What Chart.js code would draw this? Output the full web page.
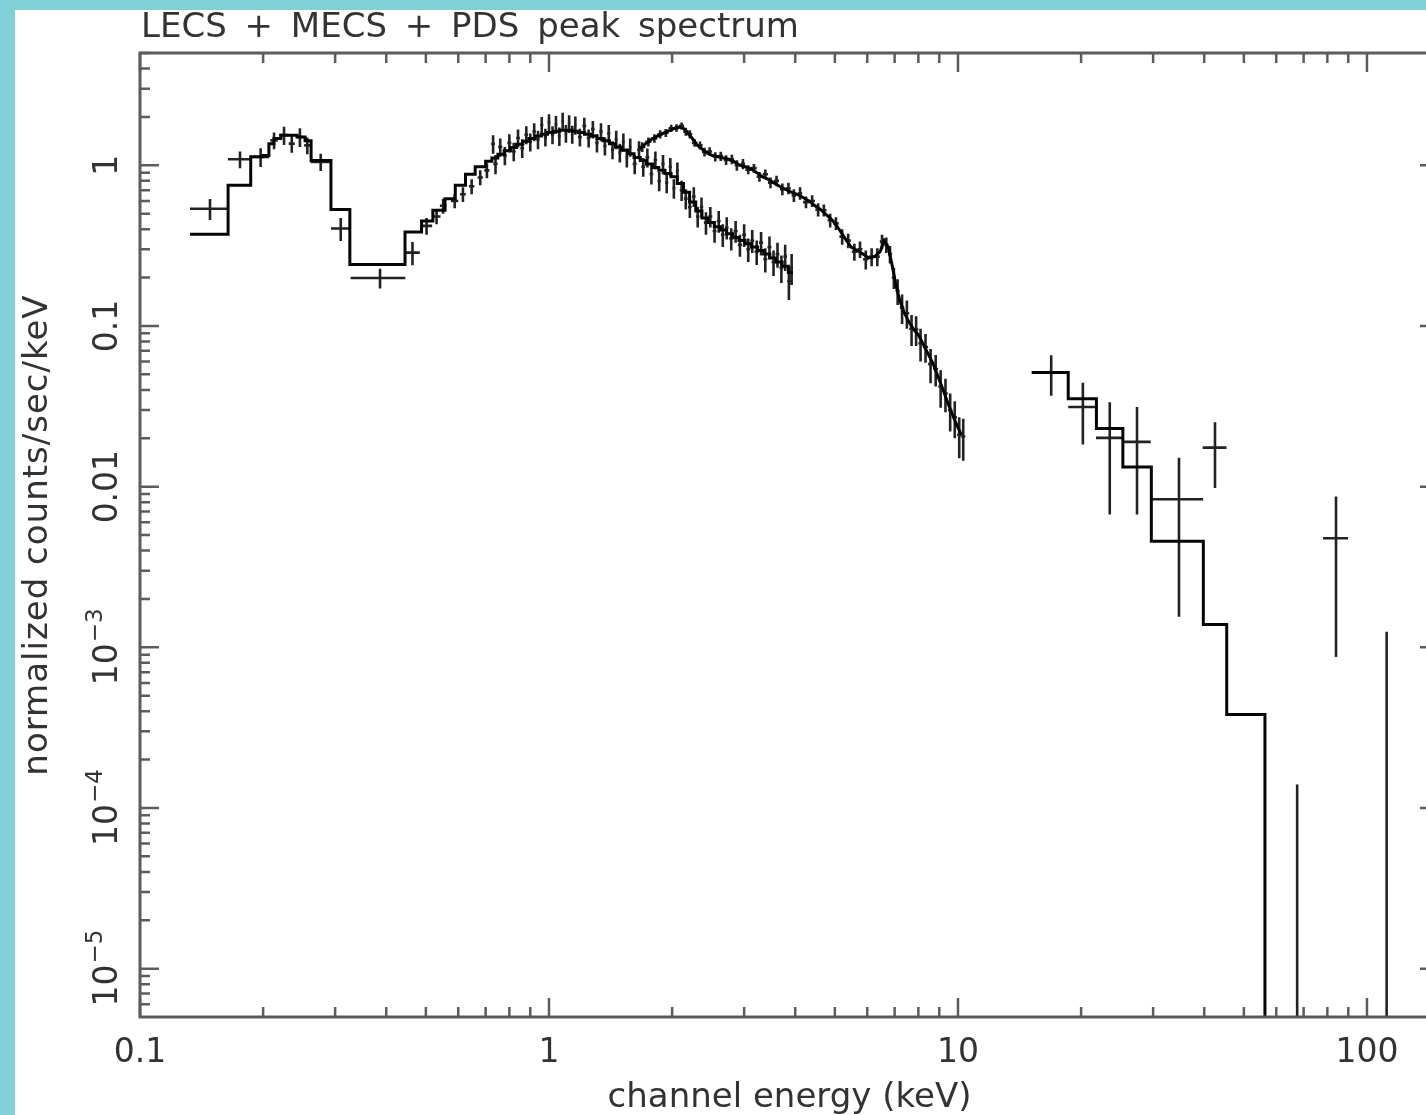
<!DOCTYPE html>
<html>
<head>
<meta charset="utf-8">
<title>LECS + MECS + PDS peak spectrum</title>
<script src="https://cdn.jsdelivr.net/npm/chart.js@4.4.1/dist/chart.umd.min.js"></script>
<style>
  html, body { margin: 0; padding: 0; overflow: hidden; background: #80d0d8; }
  #paper { position: absolute; left: 15px; top: 10px; width: 1460px; height: 1115px; background: #fff; }
  #wrap { position: absolute; left: 0; top: 0; width: 1460px; height: 1115px; }
</style>
</head>
<body>
<div id="paper"></div>
<div id="wrap"><canvas id="spec" width="1460" height="1115"></canvas></div>
<script>
// ---- data (energies in keV, rates in normalized counts/sec/keV) ----

// LECS data points: centre energy, half bin width, rate, error
const lecsE = [0.1483, 0.1756, 0.1972, 0.2127, 0.2250, 0.2350, 0.2460, 0.2565, 0.2766, 0.3096, 0.3863, 0.4637,
  0.502, 0.531, 0.551, 0.588, 0.616, 0.647, 0.679, 0.705, 0.730,
  0.74, 0.76, 0.78, 0.80, 0.82, 0.84, 0.86, 0.88, 0.90, 0.92, 0.94, 0.96, 0.98, 1.00, 1.02, 1.04, 1.06, 1.08, 1.10, 1.12, 1.14, 1.16,
  1.19, 1.22, 1.25, 1.28, 1.31, 1.34, 1.37, 1.40, 1.43, 1.46, 1.49, 1.52, 1.55, 1.58,
  1.62, 1.66, 1.70, 1.74, 1.78, 1.82, 1.86, 1.90, 1.94, 1.98, 2.02, 2.06,
  2.11, 2.16, 2.21, 2.26, 2.31, 2.36,
  2.42, 2.48, 2.54, 2.60, 2.66, 2.72,
  2.79, 2.86, 2.93, 3.00, 3.07, 3.14,
  3.22, 3.30, 3.38, 3.46, 3.54, 3.62, 3.70, 3.78, 3.86, 3.92];
const lecsDE = [0.0158, 0.0116, 0.0098, 0.0045, 0.006, 0.004, 0.0045, 0.0045, 0.0155, 0.0165, 0.059, 0.0195,
  0.016, 0.012, 0.01, 0.012, 0.01, 0.01, 0.01, 0.01, 0.008,
  0.009, 0.009, 0.009, 0.009, 0.009, 0.009, 0.009, 0.009, 0.009, 0.009, 0.009, 0.009, 0.009, 0.009, 0.009, 0.009, 0.009, 0.009, 0.009, 0.009, 0.009, 0.009,
  0.013, 0.013, 0.013, 0.013, 0.013, 0.013, 0.013, 0.013, 0.013, 0.013, 0.013, 0.013, 0.013, 0.013,
  0.018, 0.018, 0.018, 0.018, 0.018, 0.018, 0.018, 0.018, 0.018, 0.018, 0.018, 0.018,
  0.023, 0.023, 0.023, 0.023, 0.023, 0.023,
  0.028, 0.028, 0.028, 0.028, 0.028, 0.028,
  0.033, 0.033, 0.033, 0.033, 0.033, 0.033,
  0.038, 0.038, 0.038, 0.038, 0.038, 0.038, 0.038, 0.038, 0.038, 0.03];
const lecsV = [0.537, 1.09, 1.127, 1.43, 1.54, 1.365, 1.50, 1.33, 1.05, 0.404, 0.199, 0.286,
  0.42, 0.48, 0.56, 0.60, 0.66, 0.74, 0.84, 0.93, 1.36,
  1.02, 1.30, 1.15, 1.38, 1.22, 1.48, 1.28, 1.55, 1.40, 1.62, 1.45, 1.78, 1.50, 1.85, 1.55, 1.80, 1.52, 1.88, 1.58, 1.82, 1.56, 1.78,
  1.50, 1.76, 1.48, 1.68, 1.38, 1.62, 1.32, 1.58, 1.25, 1.45, 1.20, 1.40, 1.12, 1.30,
  1.02, 1.25, 0.98, 1.12, 0.88, 1.08, 0.80, 1.02, 0.78, 0.98, 0.72, 0.92,
  0.70, 0.62, 0.55, 0.64, 0.48, 0.55,
  0.44, 0.48, 0.39, 0.45, 0.37, 0.41,
  0.35, 0.39, 0.32, 0.37, 0.30, 0.34,
  0.29, 0.33, 0.26, 0.31, 0.25, 0.28, 0.23, 0.27, 0.19, 0.23];
const lecsErr = [0.08, 0.13, 0.15, 0.17, 0.20, 0.17, 0.20, 0.16, 0.13, 0.066, 0.028, 0.047,
  0.05, 0.05, 0.06, 0.06, 0.07, 0.08, 0.09, 0.10, 0.18,
  0.14, 0.17, 0.15, 0.18, 0.16, 0.19, 0.17, 0.20, 0.18, 0.21, 0.19, 0.22, 0.19, 0.23, 0.20, 0.23, 0.20, 0.24, 0.20, 0.23, 0.20, 0.23,
  0.19, 0.22, 0.19, 0.21, 0.18, 0.21, 0.17, 0.20, 0.16, 0.19, 0.16, 0.18, 0.15, 0.17,
  0.14, 0.16, 0.13, 0.15, 0.12, 0.14, 0.11, 0.14, 0.11, 0.13, 0.10, 0.12,
  0.10, 0.09, 0.08, 0.09, 0.07, 0.08,
  0.07, 0.07, 0.06, 0.07, 0.06, 0.065,
  0.055, 0.06, 0.05, 0.06, 0.05, 0.055,
  0.05, 0.055, 0.045, 0.05, 0.045, 0.05, 0.045, 0.05, 0.045, 0.05];

// LECS folded model: bin edges and bin values
const lecsModelEdges = [0.1325, 0.1642, 0.1865, 0.1998, 0.2066, 0.2125, 0.2210, 0.2421, 0.2533, 0.2620, 0.2930, 0.3259,
  0.4446, 0.488, 0.520, 0.557, 0.590, 0.625, 0.660, 0.700,
  0.725, 0.750, 0.777, 0.805, 0.833, 0.863, 0.893, 0.925, 0.958, 0.992, 1.027, 1.063, 1.101, 1.140, 1.180,
  1.222, 1.265, 1.310, 1.357, 1.405, 1.454, 1.506, 1.559, 1.614, 1.672, 1.731, 1.792, 1.855, 1.921, 1.989,
  2.059, 2.132, 2.207, 2.285, 2.366, 2.450, 2.536, 2.626, 2.719, 2.815, 2.914, 3.017, 3.124, 3.234, 3.349,
  3.467, 3.590, 3.716, 3.848, 3.95];
const lecsModelV = [0.372, 0.751, 1.13, 1.15, 1.36, 1.47, 1.54, 1.50, 1.42, 1.07, 0.53, 0.241,
  0.384, 0.45, 0.525, 0.62, 0.75, 0.88, 0.98,
  1.06, 1.11, 1.17, 1.23, 1.29, 1.35, 1.41, 1.47, 1.52, 1.56, 1.60, 1.63, 1.65, 1.65, 1.63,
  1.60, 1.56, 1.52, 1.47, 1.42, 1.36, 1.30, 1.24, 1.18, 1.12, 1.07, 1.02, 0.97, 0.93, 0.89,
  0.85, 0.77, 0.68, 0.59, 0.52, 0.47, 0.44, 0.415, 0.395, 0.375, 0.355, 0.34, 0.325, 0.31, 0.295,
  0.28, 0.265, 0.25, 0.235, 0.215];

// MECS data points
const mecsE = [1.69, 1.75, 1.81, 1.87, 1.93, 1.99, 2.05, 2.11, 2.16, 2.21,
  2.27, 2.34, 2.40, 2.47, 2.55, 2.63, 2.71, 2.80, 2.88, 2.98,
  3.07, 3.17, 3.27, 3.38, 3.48, 3.60, 3.72, 3.85, 3.97, 4.11,
  4.25, 4.40, 4.55, 4.70, 4.87, 5.03, 5.21, 5.39, 5.58, 5.76,
  5.95, 6.15, 6.35, 6.52, 6.68, 6.82, 6.97, 7.12, 7.30, 7.50,
  7.70, 7.90, 8.10, 8.33, 8.57, 8.82, 9.07, 9.32, 9.57, 9.82, 10.07, 10.3];
const mecsDE = [0.03, 0.03, 0.03, 0.03, 0.03, 0.03, 0.03, 0.03, 0.03, 0.03,
  0.035, 0.035, 0.035, 0.035, 0.035, 0.035, 0.035, 0.035, 0.035, 0.035,
  0.05, 0.05, 0.05, 0.05, 0.05, 0.05, 0.05, 0.05, 0.05, 0.05,
  0.07, 0.07, 0.07, 0.07, 0.07, 0.08, 0.08, 0.08, 0.08, 0.08,
  0.09, 0.09, 0.09, 0.08, 0.08, 0.08, 0.08, 0.08, 0.09, 0.1,
  0.1, 0.1, 0.1, 0.12, 0.12, 0.12, 0.12, 0.12, 0.12, 0.12, 0.12, 0.12];
const mecsV = [1.30, 1.40, 1.47, 1.56, 1.59, 1.70, 1.71, 1.76, 1.62, 1.56,
  1.38, 1.33, 1.21, 1.22, 1.13, 1.14, 1.08, 1.09, 1.00, 1.02,
  0.94, 0.96, 0.85, 0.88, 0.78, 0.80, 0.71, 0.72, 0.65, 0.67,
  0.59, 0.60, 0.53, 0.525, 0.455, 0.435, 0.36, 0.34, 0.29, 0.30,
  0.26, 0.27, 0.27, 0.335, 0.32, 0.28, 0.20, 0.165, 0.13, 0.12,
  0.096, 0.095, 0.078, 0.074, 0.058, 0.054, 0.042, 0.038, 0.030, 0.027, 0.021, 0.0205];
const mecsErr = [0.09, 0.09, 0.09, 0.09, 0.09, 0.09, 0.09, 0.09, 0.09, 0.09,
  0.075, 0.075, 0.075, 0.075, 0.075, 0.075, 0.075, 0.075, 0.075, 0.075,
  0.06, 0.06, 0.06, 0.06, 0.06, 0.06, 0.06, 0.06, 0.06, 0.06,
  0.05, 0.05, 0.05, 0.045, 0.045, 0.04, 0.04, 0.035, 0.035, 0.035,
  0.035, 0.035, 0.035, 0.035, 0.035, 0.035, 0.03, 0.03, 0.027, 0.024,
  0.021, 0.02, 0.018, 0.015, 0.014, 0.012, 0.011, 0.009, 0.008, 0.007, 0.006, 0.006];

// MECS folded model
const mecsModelE = [1.67, 1.72, 1.78, 1.84, 1.90, 1.96, 2.02, 2.08, 2.13, 2.18,
  2.24, 2.30, 2.37, 2.44, 2.51, 2.59, 2.67, 2.75, 2.84, 2.93,
  3.02, 3.12, 3.22, 3.32, 3.43, 3.54, 3.66, 3.78, 3.91, 4.04,
  4.18, 4.32, 4.47, 4.62, 4.78, 4.95, 5.12, 5.30, 5.48, 5.67,
  5.86, 6.05, 6.25, 6.45, 6.60, 6.75, 6.90, 7.05, 7.20, 7.40,
  7.60, 7.80, 8.00, 8.20, 8.45, 8.70, 8.95, 9.20, 9.45, 9.70, 9.95, 10.2];
const mecsModelV = [1.27, 1.36, 1.45, 1.52, 1.58, 1.64, 1.69, 1.73, 1.70, 1.60,
  1.47, 1.34, 1.26, 1.19, 1.15, 1.13, 1.11, 1.09, 1.05, 1.00,
  0.98, 0.95, 0.90, 0.85, 0.82, 0.78, 0.74, 0.71, 0.68, 0.66,
  0.63, 0.60, 0.56, 0.53, 0.49, 0.45, 0.40, 0.35, 0.31, 0.295,
  0.28, 0.265, 0.27, 0.29, 0.34, 0.31, 0.24, 0.18, 0.145, 0.12,
  0.105, 0.095, 0.088, 0.078, 0.067, 0.058, 0.048, 0.040, 0.033, 0.028, 0.024, 0.021];

// PDS data points (negative rates only show their upper error)
const pdsE = [16.9, 20.2, 23.5, 27.4, 34.7, 42.5, 67.5, 84.0, 111.7];
const pdsDE = [1.73, 1.6, 1.75, 2.2, 5.05, 2.85, 5.0, 5.9, 10.0];
const pdsV = [0.0513, 0.0313, 0.0201, 0.019, 0.00835, 0.0175, -3.0e-4, 0.00477, -1.2e-3];
const pdsErr = [0.0145, 0.013, 0.0134, 0.0123, 0.0068, 0.0077, 4.4e-4, 0.0039, 2.45e-3];

// PDS folded model (last bin is far below the plotted range)
const pdsModelEdges = [15.14, 18.6, 21.8, 25.3, 29.7, 39.8, 45.4, 56.3, 150];
const pdsModelV = [0.0513, 0.0353, 0.023, 0.01327, 0.00457, 0.001386, 3.82e-4, 1e-9];

// tick labels
const xTickVals = [0.1, 1, 10, 100];
const xTickText = ['0.1', '1', '10', '100'];
const yTickVals = [1, 0.1, 0.01, 1e-3, 1e-4, 1e-5];
const yTickText = ['1', '0.1', '0.01', '10', '10', '10'];
const yTickExp = ['', '', '', '\u22123', '\u22124', '\u22125'];
const xDecades = [0.1, 1, 10, 100];
const yDecades = [1e-6, 1e-5, 1e-4, 1e-3, 1e-2, 0.1, 1];

// ---- helpers ----
function stepLine(edges, vals) {
  const pts = [];
  vals.forEach((v, i) => {
    pts.push({x: edges[i], y: v}, {x: edges[i + 1], y: v});
  });
  return pts;
}

function crosses(e, de, v, dv) {
  const pts = [];
  for (let i = 0; i < e.length; i++) {
    pts.push({x: e[i] - de[i], y: v[i]}, {x: e[i] + de[i], y: v[i]}, {x: e[i], y: null});
    pts.push({x: e[i], y: Math.max(v[i] - dv[i], 1e-9)}, {x: e[i], y: v[i] + dv[i]}, {x: e[i], y: null});
  }
  return pts;
}

const FONT = '"DejaVu Sans", "Liberation Sans", sans-serif';
const INK = '#333';

// PGPLOT-like frame: box, inward ticks on all four sides, labels
const pgFrame = {
  id: 'pgFrame',
  afterDatasetsDraw(chart) {
    const {ctx, chartArea: a} = chart;
    const xs = chart.scales.x, ys = chart.scales.y;
    ctx.save();
    ctx.strokeStyle = '#5c5c5c';
    ctx.lineWidth = 3;
    ctx.strokeRect(a.left, a.top, a.right - a.left, a.bottom - a.top);

    ctx.lineWidth = 2.5;
    ctx.beginPath();
    xDecades.forEach(d => {
      for (let m = 1; m <= 9; m++) {
        const v = d * m;
        if (v < xs.min * 0.999 || v > xs.max) continue;
        const px = xs.getPixelForValue(v);
        const len = m === 1 ? 19 : 10;
        ctx.moveTo(px, a.bottom); ctx.lineTo(px, a.bottom - len);
        ctx.moveTo(px, a.top); ctx.lineTo(px, a.top + len);
      }
    });
    yDecades.forEach(d => {
      for (let m = 1; m <= 9; m++) {
        const v = d * m;
        if (v < ys.min || v > ys.max) continue;
        const py = ys.getPixelForValue(v);
        const len = m === 1 ? 19 : 10;
        ctx.moveTo(a.left, py); ctx.lineTo(a.left + len, py);
        ctx.moveTo(a.right, py); ctx.lineTo(a.right - len, py);
      }
    });
    ctx.stroke();

    ctx.fillStyle = INK;
    // x tick labels
    ctx.font = '33px ' + FONT;
    ctx.textAlign = 'center';
    ctx.textBaseline = 'alphabetic';
    xTickVals.forEach((v, i) => {
      ctx.fillText(xTickText[i], xs.getPixelForValue(v), 1062);
    });

    // y tick labels, rotated, with exponents
    yTickVals.forEach((v, i) => {
      const py = ys.getPixelForValue(v);
      ctx.save();
      ctx.translate(117, py);
      ctx.rotate(-Math.PI / 2);
      ctx.textAlign = 'left';
      ctx.font = '33px ' + FONT;
      const wb = ctx.measureText(yTickText[i]).width;
      ctx.font = '23px ' + FONT;
      const we = yTickExp[i] ? ctx.measureText(yTickExp[i]).width : 0;
      const x0 = -(wb + we) / 2;
      ctx.font = '33px ' + FONT;
      ctx.fillText(yTickText[i], x0, 0);
      if (yTickExp[i]) {
        ctx.font = '23px ' + FONT;
        ctx.fillText(yTickExp[i], x0 + wb + 1, -15);
      }
      ctx.restore();
    });

    // title and axis titles
    ctx.font = '34px ' + FONT;
    ctx.textAlign = 'left';
    ctx.wordSpacing = '7px';
    ctx.fillText('LECS + MECS + PDS peak spectrum', 141, 37);
    ctx.wordSpacing = '0px';
    ctx.textAlign = 'center';
    ctx.fillText('channel energy (keV)', (a.left + a.right) / 2, 1107);
    ctx.save();
    ctx.translate(47, (a.top + a.bottom) / 2);
    ctx.rotate(-Math.PI / 2);
    ctx.letterSpacing = '1px';
    ctx.fillText('normalized counts/sec/keV', 0, 0);
    ctx.restore();
    ctx.restore();
  }
};

const dataStyle = {showLine: true, borderColor: 'rgba(10,10,10,0.9)', borderWidth: 2.6, pointRadius: 0, clip: 0};
const modelStyle = {showLine: true, borderColor: '#050505', borderWidth: 3, pointRadius: 0, clip: 0};

const ctx = document.getElementById('spec').getContext('2d');
const spectrum = new Chart(ctx, {
  type: 'scatter',
  data: {
    datasets: [
      Object.assign({label: 'LECS model', data: stepLine(lecsModelEdges, lecsModelV)}, modelStyle),
      Object.assign({label: 'MECS model', data: mecsModelE.map((e, i) => ({x: e, y: mecsModelV[i]}))}, modelStyle),
      Object.assign({label: 'PDS model', data: stepLine(pdsModelEdges, pdsModelV)}, modelStyle),
      Object.assign({label: 'LECS', data: crosses(lecsE, lecsDE, lecsV, lecsErr)}, dataStyle),
      Object.assign({label: 'MECS', data: crosses(mecsE, mecsDE, mecsV, mecsErr)}, dataStyle),
      Object.assign({label: 'PDS', data: crosses(pdsE, pdsDE, pdsV, pdsErr)}, dataStyle)
    ]
  },
  options: {
    responsive: false,
    animation: false,
    events: [],
    layout: {padding: {left: 140, top: 53, right: 21, bottom: 98}},
    plugins: {
      legend: {display: false},
      tooltip: {enabled: false},
      title: {display: false}
    },
    scales: {
      x: {type: 'logarithmic', min: 0.1, max: 150, display: false},
      y: {type: 'logarithmic', min: 5e-6, max: 5, display: false}
    },
    elements: {point: {radius: 0, hoverRadius: 0}, line: {tension: 0}}
  },
  plugins: [pgFrame]
});
</script>
</body>
</html>
